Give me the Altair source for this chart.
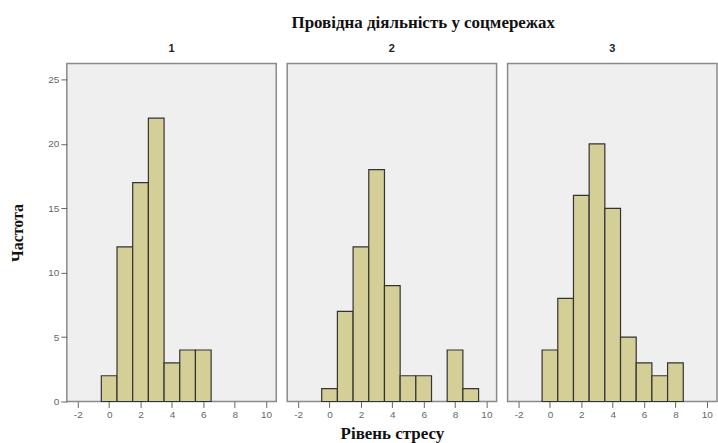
import altair as alt
import pandas as pd

# Data
stress_levels = [0, 1, 2, 3, 4, 5, 6, 7, 8, 9]
counts_group1 = [2, 12, 17, 22, 3, 4, 4, 0, 0, 0]
counts_group2 = [1, 7, 12, 18, 9, 2, 2, 0, 4, 1]
counts_group3 = [4, 8, 16, 20, 15, 5, 3, 2, 3, 0]
groups = ["1", "2", "3"]
x_ticks = [-2, 0, 2, 4, 6, 8, 10]
y_ticks = [0, 5, 10, 15, 20, 25]

rows = []
for g, counts in zip(groups, [counts_group1, counts_group2, counts_group3]):
    for v, c in zip(stress_levels, counts):
        if c > 0:
            rows.append({"group": g, "lo": v - 0.5, "hi": v + 0.5, "count": c, "base": 0})
df = pd.DataFrame(rows)

SERIF = "Liberation Serif"
SANS = "Liberation Sans"
LABEL_COLOR = "#666666"


def panel(g, show_y, x_title):
    y_axis = alt.Axis(
        values=y_ticks, title="Частота", titleFont=SERIF, titleFontSize=16,
        titleFontWeight="bold", titleColor="#111111", titlePadding=22,
        labelFont=SANS, labelFontSize=10, labelColor=LABEL_COLOR,
        tickColor=LABEL_COLOR, tickSize=6, domain=False, grid=False,
    ) if show_y else None
    x_axis = alt.Axis(
        values=x_ticks, labelFont=SANS, labelFontSize=10, labelColor=LABEL_COLOR,
        labelExpr="'' + datum.value",
        tickColor=LABEL_COLOR, tickSize=6, domain=False, grid=False,
        title=x_title if x_title else None, titleFont=SERIF, titleFontSize=17,
        titleFontWeight="bold", titleColor="#111111", titlePadding=6,
    )
    return (
        alt.Chart(df[df["group"] == g])
        .mark_bar(fill="#d3cf96", stroke="#333333", strokeWidth=1.2)
        .encode(
            x=alt.X("lo:Q", scale=alt.Scale(domain=[-2.7, 10.65], nice=False, zero=False), axis=x_axis),
            x2="hi:Q",
            y=alt.Y("count:Q", scale=alt.Scale(domain=[0, 26.25], nice=False), axis=y_axis),
            y2="base:Q",
        )
        .properties(
            width=210, height=339,
            title=alt.TitleParams(g, font=SANS, fontSize=11, fontWeight="bold",
                                  color="#222222", offset=9),
        )
    )


chart = (
    alt.hconcat(
        panel("1", True, None),
        panel("2", False, "Рівень стресу"),
        panel("3", False, None),
        spacing=9,
    )
    .properties(
        title=alt.TitleParams("Провідна діяльність у соцмережах", font=SERIF, fontSize=17,
                              fontWeight="bold", color="#111111", anchor="middle",
                              dx=60, offset=11),
        padding={"left": 9, "top": 13, "right": 0, "bottom": 0},
        background="white",
    )
    .configure_view(fill="#efefef", stroke="#8a8a8a", strokeWidth=1.5)
)

chart.save("out.html", embed_options={"renderer": "svg", "actions": False})
